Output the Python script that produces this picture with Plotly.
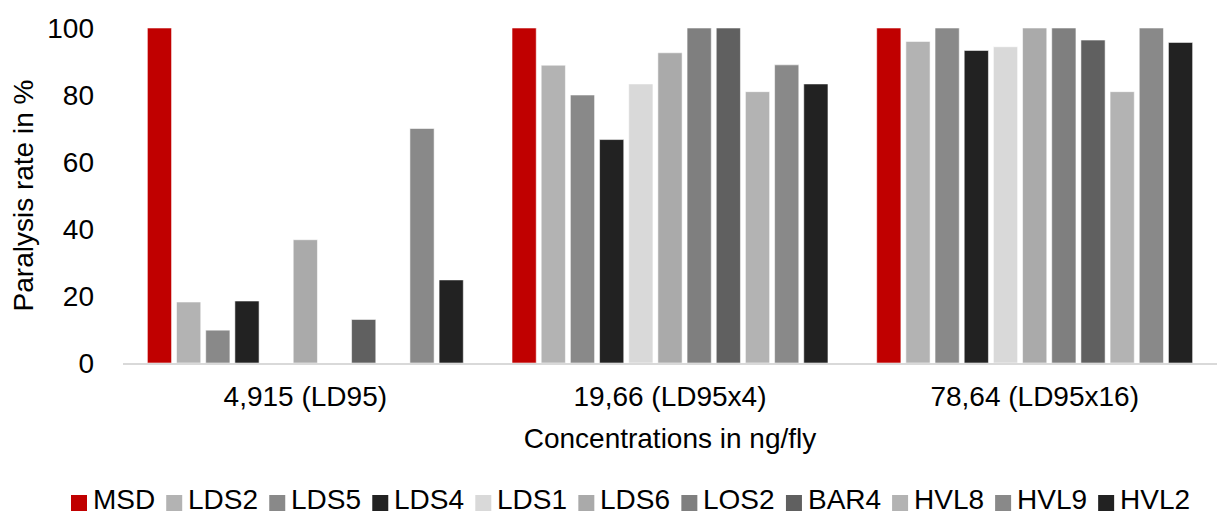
import plotly.graph_objects as go

categories = ["4,915 (LD95)", "19,66 (LD95x4)", "78,64 (LD95x16)"]
series_names = ["MSD", "LDS2", "LDS5", "LDS4", "LDS1", "LDS6", "LOS2", "BAR4", "HVL8", "HVL9", "HVL2"]

msd = [100, 100, 100]
lds2 = [18.2, 88.9, 96.0]
lds5 = [9.8, 80.0, 100]
lds4 = [18.5, 66.7, 93.3]
lds1 = [0, 83.3, 94.4]
lds6 = [36.8, 92.6, 100]
los2 = [0, 100, 100]
bar4 = [13.0, 100, 96.4]
hvl8 = [0, 81.0, 81.0]
hvl9 = [70.0, 89.0, 100]
hvl2 = [24.8, 83.3, 95.7]

values = [msd, lds2, lds5, lds4, lds1, lds6, los2, bar4, hvl8, hvl9, hvl2]
colors = ["#C00000", "#B3B3B3", "#898989", "#222222", "#D9D9D9", "#AAAAAA",
          "#7F7F7F", "#606060", "#B3B3B3", "#898989", "#222222"]

FONT = "Liberation Sans, Arial, sans-serif"
FS = 28

W, H = 1217, 515
ML, MR, MT, MB = 123, 0, 28, 152
PW, PH = W - ML - MR, H - MT - MB

fig = go.Figure()
for name, vals, col in zip(series_names, values, colors):
    fig.add_trace(go.Bar(
        x=categories, y=vals, name=name, showlegend=False,
        marker=dict(color=col, line=dict(color="rgba(255,255,255,0.55)", width=1)),
    ))

# custom legend (compact, like the reference)
cw = {"M": .833, "S": .667, "D": .722, "L": .556, "O": .778, "B": .667, "A": .667,
      "R": .722, "H": .722, "V": .667}
def text_w(s):
    return sum(cw.get(c, .556) for c in s) * FS

def px_x(px):
    return (px - ML) / PW

def px_y(py):
    return (H - MB - py) / PH

shapes = []
annotations = []
x = 71.0
sq = 16
for name, col in zip(series_names, colors):
    shapes.append(dict(type="rect", xref="paper", yref="paper",
                       x0=px_x(x), x1=px_x(x + sq), y0=px_y(511), y1=px_y(495),
                       fillcolor=col, line=dict(width=0)))
    tx = x + sq + 5
    annotations.append(dict(text=name, xref="paper", yref="paper", x=px_x(tx), y=px_y(499),
                            xanchor="left", yanchor="middle", showarrow=False,
                            borderpad=0, font=dict(size=FS, color="#000000", family=FONT)))
    x = tx + text_w(name) + 12

fig.update_layout(
    width=W, height=H,
    margin=dict(l=ML, r=MR, t=MT, b=MB, autoexpand=False),
    paper_bgcolor="white", plot_bgcolor="white",
    barmode="group", bargap=0.12, bargroupgap=0.17,
    font=dict(family=FONT, size=FS, color="#000000"),
    showlegend=False,
    shapes=shapes, annotations=annotations,
    xaxis=dict(showline=True, linecolor="#D9D9D9", linewidth=2, ticks="",
               showgrid=False, ticklabelstandoff=7,
               tickfont=dict(size=FS),
               title=dict(text="Concentrations in ng/fly", standoff=18,
                          font=dict(size=FS)),
               automargin=False),
    yaxis=dict(range=[0, 100], dtick=20, showgrid=False, showline=False,
               zeroline=False, ticks="", ticklabelstandoff=28,
               tickfont=dict(size=FS),
               title=dict(text="Paralysis rate in %", standoff=5,
                          font=dict(size=FS)),
               automargin=False),
)

fig.write_html("out.html")
